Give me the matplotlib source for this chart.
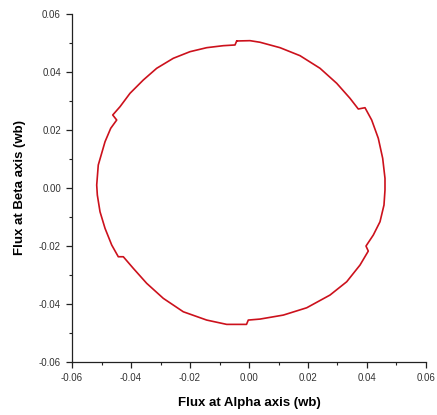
import numpy as np
import matplotlib
matplotlib.use("Agg")
import matplotlib.pyplot as plt
from matplotlib.ticker import MultipleLocator

plt.rcParams['font.family'] = ['Liberation Sans', 'DejaVu Sans']

# stator flux locus, alpha/beta components (wb), traced clockwise from the top
flux_alpha = [-0.00417, 0.00034, 0.00373, 0.01051, 0.01729, 0.02407, 0.02973,
              0.03424, 0.03705, 0.03932, 0.04159, 0.04383, 0.04532, 0.04610,
              0.04610, 0.04576, 0.04441, 0.04214, 0.03966, 0.04044, 0.03763,
              0.03312, 0.02746, 0.01956, 0.01163, 0.00373, -0.00024, -0.00085,
              -0.00756, -0.01434, -0.02227, -0.02905, -0.03468, -0.03922,
              -0.04261, -0.04431, -0.04654, -0.04881, -0.05051, -0.05142,
              -0.05163, -0.05110, -0.04881, -0.04688, -0.04485, -0.04620,
              -0.04373, -0.04034, -0.03583, -0.03129, -0.02566, -0.02000,
              -0.01434, -0.00871, -0.00475, -0.00417]
flux_beta = [0.05067, 0.05078, 0.05023, 0.04836, 0.04560, 0.04125, 0.03607,
             0.03089, 0.02720, 0.02765, 0.02340, 0.01709, 0.01018, 0.00328,
             -0.00076, -0.00594, -0.01170, -0.01629, -0.02009, -0.02182,
             -0.02665, -0.03241, -0.03700, -0.04139, -0.04391, -0.04529,
             -0.04563, -0.04712, -0.04712, -0.04563, -0.04277, -0.03814,
             -0.03296, -0.02779, -0.02378, -0.02378, -0.01974, -0.01398,
             -0.00825, -0.00249, 0.00097, 0.00787, 0.01591, 0.02054, 0.02340,
             0.02513, 0.02799, 0.03262, 0.03721, 0.04125, 0.04470, 0.04698,
             0.04836, 0.04905, 0.04929, 0.05067]

fig = plt.figure(figsize=(4.37, 4.15), dpi=100)
ax = fig.add_axes([0.1648, 0.1284, 0.81, 0.838])

ax.plot(flux_alpha, flux_beta, color='#cc111c', lw=1.2,
        solid_joinstyle='round', solid_capstyle='round')

ax.set_xlim(-0.06, 0.06)
ax.set_ylim(-0.06, 0.06)
ax.xaxis.set_major_locator(MultipleLocator(0.02))
ax.yaxis.set_major_locator(MultipleLocator(0.02))
ax.xaxis.set_minor_locator(MultipleLocator(0.01))
ax.yaxis.set_minor_locator(MultipleLocator(0.01))
ax.xaxis.set_major_formatter(plt.FormatStrFormatter('%.2f'))
ax.yaxis.set_major_formatter(plt.FormatStrFormatter('%.2f'))

for side in ('top', 'right'):
    ax.spines[side].set_visible(False)
for side in ('left', 'bottom'):
    ax.spines[side].set_color('#222222')
    ax.spines[side].set_linewidth(0.9)

ax.tick_params(which='major', length=4, width=0.9, color='#222222',
               labelsize=7, labelcolor='#333333', pad=4)
ax.tick_params(which='minor', length=2.5, width=0.8, color='#222222')

ax.set_xlabel('Flux at Alpha axis (wb)', fontsize=9.5, fontweight='bold',
              labelpad=10)
ax.set_ylabel('Flux at Beta axis (wb)', fontsize=9.5, fontweight='bold',
              labelpad=9)

fig.savefig('out.png', dpi=100)
